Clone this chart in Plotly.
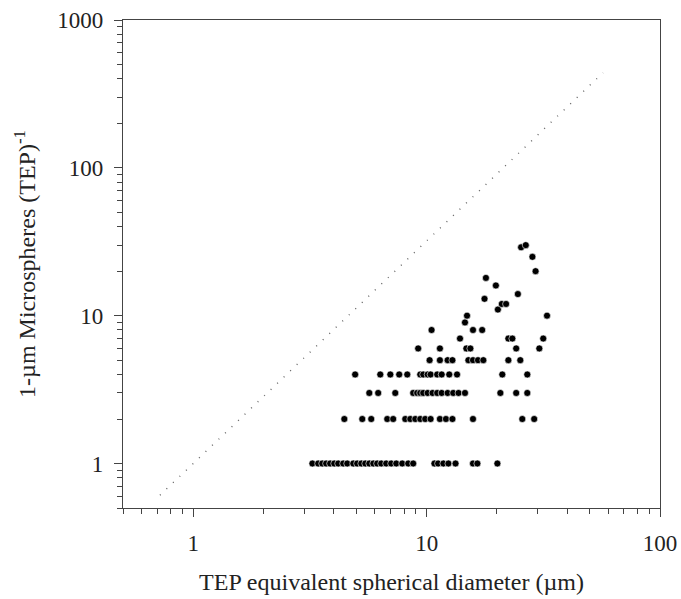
import plotly.graph_objects as go

# TEP equivalent spherical diameter (um) for each microsphere count
d_n1 = [3.24, 3.43, 3.57, 3.71, 3.86, 4.02, 4.18, 4.39, 4.57, 4.85, 5.04, 5.25, 5.46, 5.68,
        5.91, 6.14, 6.39, 6.71, 7.05, 7.41, 7.86, 8.34, 8.76, 10.8, 11.2, 11.8, 12.4, 13.3,
        15.8, 16.5, 20.1]
d_n2 = [4.44, 5.30, 5.79, 6.78, 7.19, 8.10, 8.51, 8.94, 9.39, 9.86, 10.4, 11.4, 12.1, 12.9,
        15.8, 25.7, 28.9]
d_n3 = [5.68, 6.20, 7.34, 8.76, 9.11, 9.39, 9.67, 10.1, 10.6, 11.1, 11.6, 12.3, 13.0, 13.7,
        14.6, 20.7, 24.2, 27.0]
d_n4 = [4.94, 6.33, 6.99, 7.63, 8.26, 9.39, 9.67, 10.1, 10.4, 11.1, 11.6, 12.5, 13.5, 21.1, 27.0]
d_n5 = [10.3, 11.4, 12.3, 12.9, 15.1, 15.8, 16.6, 17.5, 22.4, 25.2]
d_n6 = [9.20, 11.4, 14.8, 15.4, 24.2, 30.4]
d_n7 = [13.9, 22.4, 23.3, 31.6]
d_n8 = [10.5, 15.8, 17.3]
d_n9 = [14.6]
d_n10 = [14.9, 32.8]
d_n11 = [20.2]
d_n12 = [21.0, 21.9]
d_n13 = [17.7]
d_n14 = [24.6]
d_n16 = [19.8]
d_n18 = [17.95]
d_n20 = [29.3]
d_n25 = [28.4]
d_n29 = [25.4]
d_n30 = [26.6]

counts = [1, 2, 3, 4, 5, 6, 7, 8, 9, 10, 11, 12, 13, 14, 16, 18, 20, 25, 29, 30]
diam_rows = [d_n1, d_n2, d_n3, d_n4, d_n5, d_n6, d_n7, d_n8, d_n9, d_n10, d_n11, d_n12,
             d_n13, d_n14, d_n16, d_n18, d_n20, d_n25, d_n29, d_n30]

# dotted reference line endpoints
line_x = [0.72, 57.0]
line_y = [0.61, 440.0]

x_ticks = [1, 10, 100]
y_ticks = [1, 10, 100, 1000]

xs, ys = [], []
for c, row in zip(counts, diam_rows):
    xs.extend(row)
    ys.extend([c] * len(row))

def minor_vals(lo_exp, hi_exp):
    v = []
    for e in range(lo_exp, hi_exp):
        for k in range(2, 10):
            v.append(k * 10 ** e)
    return v

fig = go.Figure()
fig.add_trace(go.Scatter(x=line_x, y=line_y, mode="lines",
                         line=dict(color="#666666", width=1.4, dash="1px,8px"),
                         showlegend=False, hoverinfo="skip"))
fig.add_trace(go.Scatter(x=xs, y=ys, mode="markers",
                         marker=dict(color="black", size=7,
                                     line=dict(color="white", width=0.6)),
                         showlegend=False))

font_family = "Liberation Serif, Times New Roman, serif"
axis_common = dict(
    type="log", showgrid=False, zeroline=False,
    showline=True, linecolor="#444444", linewidth=1.3, mirror=True,
    ticks="outside", ticklen=8, tickwidth=1.2, tickcolor="#444444",
    ticklabelstandoff=6,
    tickfont=dict(family=font_family, size=23, color="#222222"),
)
fig.update_xaxes(**axis_common, range=[-0.30103, 2], tickvals=x_ticks,
                 ticktext=[str(t) for t in x_ticks],
                 minor=dict(ticks="outside", ticklen=5, tickwidth=1.2, tickcolor="#444444",
                            tickvals=minor_vals(-1, 2), showgrid=False),
                 title=dict(text="TEP equivalent spherical diameter (µm)",
                            font=dict(family=font_family, size=24, color="#222222"),
                            standoff=18))
fig.update_yaxes(**axis_common, range=[-0.30103, 3], tickvals=y_ticks,
                 ticktext=[str(t) for t in y_ticks],
                 minor=dict(ticks="outside", ticklen=5, tickwidth=1.2, tickcolor="#444444",
                            tickvals=minor_vals(-1, 3), showgrid=False),
                 title=dict(text="1-µm Microspheres (TEP)<sup>-1</sup>",
                            font=dict(family=font_family, size=24, color="#222222"),
                            standoff=14))
fig.update_layout(width=681, height=599, plot_bgcolor="white", paper_bgcolor="white",
                  margin=dict(l=123, r=21, t=20, b=91, autoexpand=False))
fig.write_html("out.html")
